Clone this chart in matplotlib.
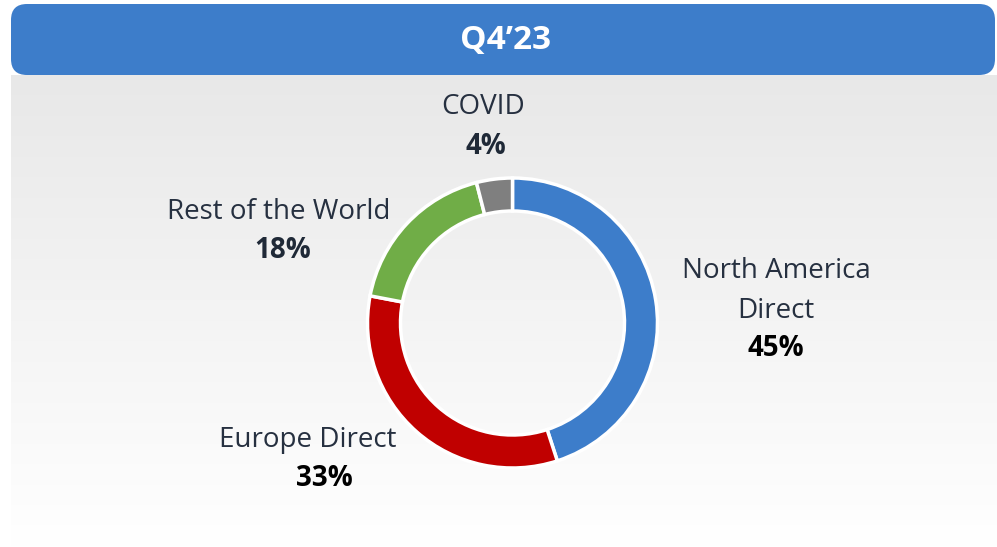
import numpy as np
import matplotlib.pyplot as plt
from matplotlib.patches import FancyBboxPatch

# data
labels = ['North America\nDirect', 'Europe Direct', 'Rest of the World', 'COVID']
values = [45, 33, 18, 4]
pct_labels = ['45%', '33%', '18%', '4%']
colors = ['#3d7dca', '#c00000', '#70ad47', '#7f7f7f']
title = 'Q4\u201923'

plt.rcParams['font.family'] = ['Open Sans', 'DejaVu Sans']

W, H = 997, 547
fig = plt.figure(figsize=(W/100, H/100), dpi=100)
fig.patch.set_facecolor('white')

# background in pixel coords
bg = fig.add_axes([0, 0, 1, 1])
bg.set_xlim(0, W)
bg.set_ylim(H, 0)
bg.axis('off')

grad = np.linspace(0.91, 1.0, 256).reshape(-1, 1)
bg.imshow(np.dstack([grad, grad, grad]), extent=[11, W, H, 75], aspect='auto', zorder=0)

hdr = FancyBboxPatch((11, 4), 984, 71, boxstyle='round,pad=0,rounding_size=16',
                     fc='#3d7dca', ec='none', zorder=2)
bg.add_patch(hdr)
bg.text(505, 40, title, color='white', fontsize=24, fontweight='bold',
        ha='center', va='center', zorder=3)

# donut
cx, cy, R = 512.5, 323, 150
ax = fig.add_axes([(cx - R)/W, (H - cy - R)/H, 2*R/W, 2*R/H])
ax.pie(values, colors=colors, startangle=90, counterclock=False, radius=145/150,
       wedgeprops=dict(width=33/150, edgecolor='white', linewidth=2.5))
ax.set_xlim(-1, 1)
ax.set_ylim(-1, 1)
ax.set_aspect('equal')
ax.axis('off')

# labels
lab_col = '#263040'
lab_pos = [(776, 291), (308, 440), (279, 212), (483, 107)]
pct_pos = [(776, 349), (324, 478), (283, 250), (486, 146)]
pct_col = ['#000000', '#000000', '#1f2937', '#1f2937']
for i in range(len(labels)):
    bg.text(lab_pos[i][0], lab_pos[i][1], labels[i], color=lab_col, fontsize=20,
            ha='center', va='center', linespacing=1.6, zorder=3)
    bg.text(pct_pos[i][0], pct_pos[i][1], pct_labels[i], color=pct_col[i], fontsize=20,
            fontweight='bold', ha='center', va='center', zorder=3)

plt.savefig('out.png', dpi=100)
